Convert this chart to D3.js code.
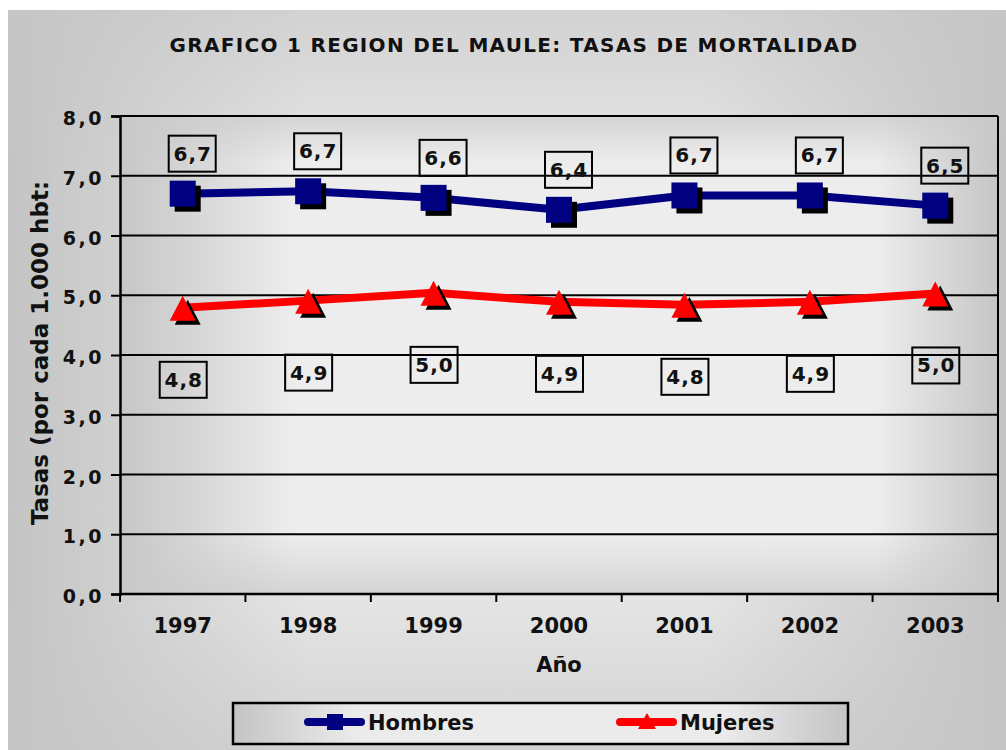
<!DOCTYPE html>
<html>
<head>
<meta charset="utf-8">
<script src="https://cdn.jsdelivr.net/npm/d3@7"></script>
<style>
  body { margin: 0; background: #ffffff; }
  svg { display: block; }
  text { font-family: "DejaVu Sans", Verdana, sans-serif; font-weight: bold; fill: #111; }
</style>
</head>
<body>
<div id="chart"></div>
<script>
// data
var years = ["1997", "1998", "1999", "2000", "2001", "2002", "2003"];
var hombres = [6.70, 6.74, 6.63, 6.43, 6.67, 6.67, 6.50];
var mujeres = [4.79, 4.91, 5.04, 4.89, 4.84, 4.89, 5.03];
var yTicks = [0, 1, 2, 3, 4, 5, 6, 7, 8];
var seriesNames = ["Hombres", "Mujeres"];

var W = 1006, H = 750;
var margin = ({top: 116, right: 8, bottom: 156, left: 120});
var Gwidth = W - margin.left - margin.right;
var Gheight = H - margin.top - margin.bottom;
var colors = ["#000080", "#ff0000"];

var es = d3.formatLocale({decimal: ",", thousands: ".", grouping: [3], currency: ["", ""]});
var fmt = es.format(".1f");

var svg = d3.select("#chart").append("svg")
    .attr("width", W)
    .attr("height", H);

var defs = svg.append("defs");

// rectangular "from centre" style gradients, built from two overlays
function edgeGrad(id, horiz, dark, a, b) {
  var g = defs.append("linearGradient").attr("id", id)
    .attr("x1", 0).attr("y1", 0)
    .attr("x2", horiz ? 1 : 0).attr("y2", horiz ? 0 : 1);
  g.append("stop").attr("offset", 0).attr("stop-color", dark).attr("stop-opacity", 1);
  g.append("stop").attr("offset", a).attr("stop-color", dark).attr("stop-opacity", 0);
  g.append("stop").attr("offset", b).attr("stop-color", dark).attr("stop-opacity", 0);
  g.append("stop").attr("offset", 1).attr("stop-color", dark).attr("stop-opacity", 1);
}
edgeGrad("outerH", true, "#c4c4c4", 0.3, 0.7);
edgeGrad("outerV", false, "#c6c6c6", 0.2, 0.8);
edgeGrad("plotH", true, "#c6c6c6", 0.2, 0.86);
edgeGrad("plotV", false, "#cacaca", 0.1, 0.88);
edgeGrad("legH", true, "#c4c4c4", 0.2, 0.8);

// outer background
var bg = svg.append("g");
bg.append("rect").attr("x", 8).attr("y", 10).attr("width", W - 8).attr("height", H - 10).attr("fill", "#e4e4e4");
bg.append("rect").attr("x", 8).attr("y", 10).attr("width", W - 8).attr("height", H - 10).attr("fill", "url(#outerH)");
bg.append("rect").attr("x", 8).attr("y", 10).attr("width", W - 8).attr("height", H - 10).attr("fill", "url(#outerV)").attr("opacity", 0.6);

// title
svg.append("text")
  .attr("x", 514)
  .attr("y", 52)
  .attr("text-anchor", "middle")
  .style("font-size", "20px")
  .style("letter-spacing", "1.3px")
  .text("GRAFICO 1 REGION DEL MAULE: TASAS DE MORTALIDAD");

var topG = svg.append("g")
  .attr("transform", "translate(" + margin.left + "," + margin.top + ")");

// plot area
topG.append("rect").attr("width", Gwidth).attr("height", Gheight).attr("fill", "#ededed");
topG.append("rect").attr("width", Gwidth).attr("height", Gheight).attr("fill", "url(#plotH)");
topG.append("rect").attr("width", Gwidth).attr("height", Gheight).attr("fill", "url(#plotV)").attr("opacity", 0.7);

// scales
var scaleX = d3.scaleBand()
  .domain(years)
  .range([0, Gwidth]);
var bw = scaleX.bandwidth();
var cx = function(i) { return scaleX(years[i]) + bw / 2; };

var scaleY = d3.scaleLinear()
  .domain([0, 8])
  .range([Gheight, 0]);

// gridlines
topG.append("g").selectAll("line")
  .data(yTicks.filter(function(d) { return d > 0; }))
  .enter().append("line")
  .attr("x1", 0).attr("x2", Gwidth)
  .attr("y1", function(d) { return scaleY(d); })
  .attr("y2", function(d) { return scaleY(d); })
  .attr("stroke", "#000").attr("stroke-width", 2);

// right border
topG.append("line")
  .attr("x1", Gwidth).attr("x2", Gwidth)
  .attr("y1", 0).attr("y2", Gheight)
  .attr("stroke", "#000").attr("stroke-width", 2);

// y axis
var yAxis = topG.append("g")
  .attr("class", "y axis")
  .call(d3.axisLeft(scaleY)
    .tickValues(yTicks)
    .tickFormat(fmt)
    .tickSize(9)
    .tickPadding(7));
yAxis.select(".domain").attr("stroke", "#000").attr("stroke-width", 2.5);
yAxis.selectAll(".tick line").attr("stroke", "#000").attr("stroke-width", 2);
yAxis.selectAll(".tick text")
  .attr("dy", "0.45em")
  .style("font-size", "19px")
  .style("letter-spacing", "2.5px")
  .style("font-family", "DejaVu Sans")
  .attr("fill", "#111");

// x axis: labels at centres, ticks at category boundaries
var xAxis = topG.append("g")
  .attr("class", "x axis")
  .attr("transform", "translate(0," + Gheight + ")")
  .call(d3.axisBottom(scaleX).tickSize(0).tickPadding(24));
xAxis.select(".domain").remove();
xAxis.selectAll(".tick text")
  .style("font-size", "21px")
  .style("font-family", "DejaVu Sans")
  .attr("fill", "#111");

topG.append("line")
  .attr("x1", 0).attr("x2", Gwidth)
  .attr("y1", Gheight).attr("y2", Gheight)
  .attr("stroke", "#000").attr("stroke-width", 2.5);

topG.append("g").selectAll("line")
  .data(years.concat(["end"]))
  .enter().append("line")
  .attr("x1", function(d) { return d === "end" ? Gwidth : scaleX(d); })
  .attr("x2", function(d) { return d === "end" ? Gwidth : scaleX(d); })
  .attr("y1", Gheight).attr("y2", Gheight + 8)
  .attr("stroke", "#000").attr("stroke-width", 2);

// axis titles
topG.append("text")
  .attr("x", Gwidth / 2)
  .attr("y", Gheight + 78)
  .attr("text-anchor", "middle")
  .style("font-size", "21px")
  .text("Año");

svg.append("text")
  .attr("transform", "translate(48," + (margin.top + 237) + ") rotate(-90)")
  .attr("text-anchor", "middle")
  .style("font-size", "23px")
  .text("Tasas (por cada 1.000 hbt:");

var chartArea = topG.append("g");

var valueLine = d3.line()
  .x(function(d, i) { return cx(i); })
  .y(function(d) { return scaleY(d); });

// lines
[hombres, mujeres].forEach(function(vals, k) {
  chartArea.append("path")
    .datum(vals)
    .attr("d", valueLine)
    .attr("fill", "none")
    .attr("stroke", colors[k])
    .attr("stroke-width", 8)
    .attr("stroke-linejoin", "round");
});

var sq = 26;
// square markers with shadow
chartArea.selectAll(".sqShadow")
  .data(hombres).enter().append("rect")
  .attr("x", function(d, i) { return cx(i) - sq / 2 + 5; })
  .attr("y", function(d) { return scaleY(d) - sq / 2 + 5; })
  .attr("width", sq).attr("height", sq)
  .attr("fill", "#000");
chartArea.selectAll(".sq")
  .data(hombres).enter().append("rect")
  .attr("x", function(d, i) { return cx(i) - sq / 2; })
  .attr("y", function(d) { return scaleY(d) - sq / 2; })
  .attr("width", sq).attr("height", sq)
  .attr("fill", colors[0]);

// triangle markers with shadow
function tri(x, y) {
  return "M" + x + "," + (y - 12) + "L" + (x + 13) + "," + (y + 13) + "L" + (x - 13) + "," + (y + 13) + "Z";
}
chartArea.selectAll(".triShadow")
  .data(mujeres).enter().append("path")
  .attr("d", function(d, i) { return tri(cx(i) + 5, scaleY(d) + 4); })
  .attr("fill", "#000");
chartArea.selectAll(".tri")
  .data(mujeres).enter().append("path")
  .attr("d", function(d, i) { return tri(cx(i), scaleY(d)); })
  .attr("fill", colors[1]);

// data labels in boxes
function labels(vals, dx, dy) {
  var g = chartArea.append("g");
  var lab = g.selectAll("g").data(vals).enter().append("g")
    .attr("transform", function(d, i) {
      return "translate(" + (cx(i) + dx) + "," + (scaleY(d) + dy) + ")";
    });
  lab.append("rect")
    .attr("x", -23).attr("y", -18)
    .attr("width", 47).attr("height", 36)
    .attr("fill", "none")
    .attr("stroke", "#000")
    .attr("stroke-width", 2);
  lab.append("text")
    .attr("x", 1)
    .attr("y", 7)
    .attr("text-anchor", "middle")
    .style("font-size", "20px")
    .style("letter-spacing", "1px")
    .text(function(d) { return fmt(d); });
}
labels(hombres, 9, -40);
labels(mujeres, 0, 72);

// legend
var legend = svg.append("g").attr("transform", "translate(233,703)");
legend.append("rect").attr("width", 615).attr("height", 41).attr("fill", "#ebebeb");
legend.append("rect").attr("width", 615).attr("height", 41).attr("fill", "url(#legH)")
  .attr("stroke", "#000").attr("stroke-width", 2.5);

var item = legend.selectAll(".item")
  .data(seriesNames).enter().append("g")
  .attr("transform", function(d, i) { return "translate(" + (71 + i * 312) + ",19)"; });
item.append("line")
  .attr("x1", 4).attr("x2", 57)
  .attr("stroke", function(d, i) { return colors[i]; })
  .attr("stroke-width", 8)
  .attr("stroke-linecap", "round");
item.filter(function(d, i) { return i === 0; }).append("rect")
  .attr("x", 23).attr("y", -8).attr("width", 16).attr("height", 16)
  .attr("fill", colors[0]);
item.filter(function(d, i) { return i === 1; }).append("path")
  .attr("d", "M31,-9L40,7L22,7Z")
  .attr("fill", colors[1]);
item.append("text")
  .attr("x", 64)
  .attr("y", 8)
  .style("font-size", "21px")
  .text(function(d) { return d; });
</script>
</body>
</html>
